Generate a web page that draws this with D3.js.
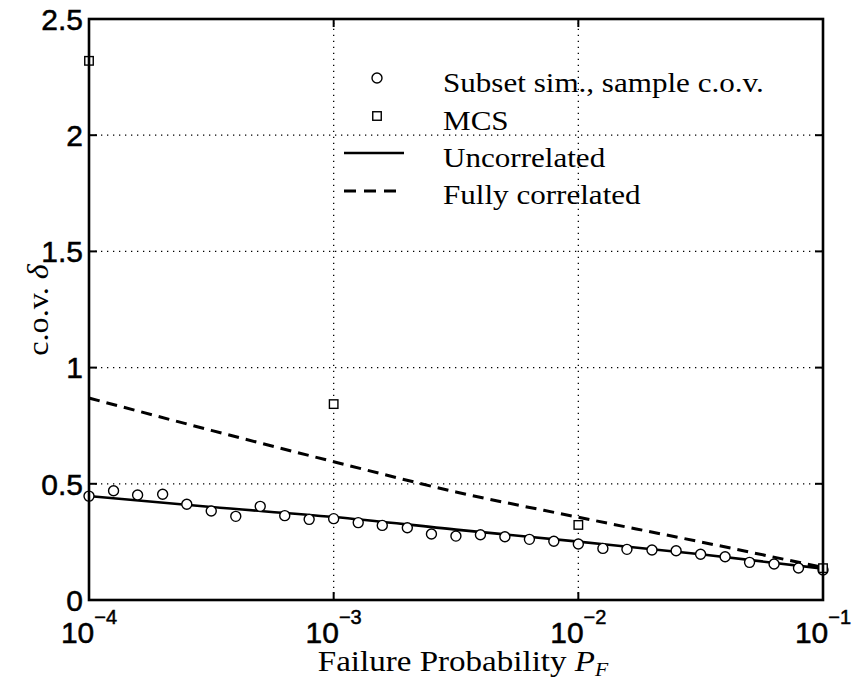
<!DOCTYPE html>
<html>
<head>
<meta charset="utf-8">
<script src="https://cdn.jsdelivr.net/npm/d3@7"></script>
<style>
  html, body { margin: 0; padding: 0; background: #fff; }
  svg { display: block; }
</style>
</head>
<body>
<svg id="chart" width="853" height="682"></svg>
<script>
// ---------- data ----------
const subsetPF = [1.00e-4, 1.26e-4, 1.58e-4, 2.00e-4, 2.51e-4, 3.16e-4, 3.98e-4, 5.01e-4, 6.31e-4, 7.94e-4,
                  1.00e-3, 1.26e-3, 1.58e-3, 2.00e-3, 2.51e-3, 3.16e-3, 3.98e-3, 5.01e-3, 6.31e-3, 7.94e-3,
                  1.00e-2, 1.26e-2, 1.58e-2, 2.00e-2, 2.51e-2, 3.16e-2, 3.98e-2, 5.01e-2, 6.31e-2, 7.94e-2,
                  1.00e-1];
const subsetCov = [0.447, 0.470, 0.452, 0.455, 0.412, 0.383, 0.360, 0.403, 0.363, 0.347,
                   0.350, 0.333, 0.321, 0.311, 0.284, 0.275, 0.281, 0.272, 0.261, 0.253,
                   0.241, 0.222, 0.218, 0.215, 0.212, 0.197, 0.186, 0.162, 0.155, 0.138,
                   0.129];
const mcsPF = [1e-4, 1e-3, 1e-2, 1e-1];
const mcsCov = [2.32, 0.843, 0.323, 0.137];
const curvePF = [1e-4, 3.16e-4, 1e-3, 3.16e-3, 1e-2, 3.16e-2, 1e-1];
const uncorrCov = [0.447, 0.400, 0.357, 0.303, 0.251, 0.197, 0.135];
const fullCorrCov = [0.869, 0.730, 0.595, 0.465, 0.356, 0.250, 0.140];
const xTicks = [1e-4, 1e-3, 1e-2, 1e-1];
const xTickExp = ["\u22124", "\u22123", "\u22122", "\u22121"];
const yTicks = [0, 0.5, 1, 1.5, 2, 2.5];
const yTickLabels = ["0", "0.5", "1", "1.5", "2", "2.5"];
const legendLabels = ["Subset sim., sample c.o.v.", "MCS", "Uncorrelated", "Fully correlated"];

// ---------- layout ----------
const L = 89, R = 823, T = 19, B = 600;
const svg = d3.select("#chart");
const x = d3.scaleLog().domain([1e-4, 1e-1]).range([L, R]);
const y = d3.scaleLinear().domain([0, 2.5]).range([B, T]);

const sans = "'Liberation Sans', Arial, Helvetica, sans-serif";
const serif = "'Liberation Serif', 'Times New Roman', serif";
const widen = 1.11; // Computer-Modern-like width

// grid (dotted)
const grid = svg.append("g").attr("stroke", "#000").attr("stroke-width", 1.3)
  .attr("stroke-dasharray", "1.3,4.7").attr("fill", "none");
xTicks.slice(1, -1).forEach(t => {
  grid.append("line").attr("x1", x(t)).attr("x2", x(t)).attr("y1", B).attr("y2", T);
});
yTicks.slice(1, -1).forEach(t => {
  grid.append("line").attr("x1", L).attr("x2", R).attr("y1", y(t)).attr("y2", y(t));
});

// ticks (inward on all sides)
const tk = svg.append("g").attr("stroke", "#000").attr("stroke-width", 2);
xTicks.forEach(t => {
  tk.append("line").attr("x1", x(t)).attr("x2", x(t)).attr("y1", B).attr("y2", B - 8);
  tk.append("line").attr("x1", x(t)).attr("x2", x(t)).attr("y1", T).attr("y2", T + 8);
});
yTicks.forEach(t => {
  tk.append("line").attr("x1", L).attr("x2", L + 8).attr("y1", y(t)).attr("y2", y(t));
  tk.append("line").attr("x1", R).attr("x2", R - 8).attr("y1", y(t)).attr("y2", y(t));
});

// lines
const line = d3.line().x(d => x(d[0])).y(d => y(d[1])).curve(d3.curveMonotoneX);
svg.append("path").datum(curvePF.map((p, i) => [p, fullCorrCov[i]]))
  .attr("d", line).attr("fill", "none").attr("stroke", "#000")
  .attr("stroke-width", 3).attr("stroke-dasharray", "11,7");
svg.append("path").datum(curvePF.map((p, i) => [p, uncorrCov[i]]))
  .attr("d", line).attr("fill", "none").attr("stroke", "#000").attr("stroke-width", 2.6);

// subset circles
const cr = 5;
svg.append("g").selectAll("circle").data(subsetPF.map((p, i) => [p, subsetCov[i]]))
  .join("circle").attr("cx", d => x(d[0])).attr("cy", d => y(d[1])).attr("r", cr)
  .attr("fill", "#fff").attr("stroke", "#000").attr("stroke-width", 1.4);

// MCS squares
const sq = 8.5;
svg.append("g").selectAll("rect").data(mcsPF.map((p, i) => [p, mcsCov[i]]))
  .join("rect").attr("x", d => x(d[0]) - sq / 2).attr("y", d => y(d[1]) - sq / 2)
  .attr("width", sq).attr("height", sq)
  .attr("fill", "#fff").attr("stroke", "#000").attr("stroke-width", 1.4);

// frame
svg.append("rect").attr("x", L).attr("y", T).attr("width", R - L).attr("height", B - T)
  .attr("fill", "none").attr("stroke", "#000").attr("stroke-width", 2.6);

// y tick labels
svg.append("g").selectAll("text").data(yTicks).join("text")
  .attr("x", L - 6).attr("y", d => y(d)).attr("dy", "0.36em")
  .attr("text-anchor", "end").attr("font-family", sans).attr("font-size", 30)
  .attr("stroke", "#000").attr("stroke-width", 0.5)
  .text((d, i) => yTickLabels[i]);

// x tick labels (10^e)
xTicks.forEach((t, i) => {
  const g = svg.append("text").attr("x", x(t)).attr("y", 643)
    .attr("text-anchor", "middle").attr("font-family", sans).attr("font-size", 30)
    .attr("stroke", "#000").attr("stroke-width", 0.5);
  g.append("tspan").text("10");
  g.append("tspan").attr("dy", -19).attr("font-size", 20).text(xTickExp[i]);
});

// axis titles
const xt = svg.append("text").attr("transform", `translate(463,671) scale(1.14,1)`)
  .attr("text-anchor", "middle").attr("font-family", serif).attr("font-size", 29);
xt.append("tspan").text("Failure Probability ");
xt.append("tspan").attr("font-style", "italic").text("P");
xt.append("tspan").attr("font-style", "italic").attr("font-size", 19).attr("dy", 5).text("F");

const yt = svg.append("text").attr("transform", `translate(48,310) rotate(-90) scale(${widen},1)`)
  .attr("text-anchor", "middle").attr("font-family", serif).attr("font-size", 29);
yt.append("tspan").text("c.o.v. ");
yt.append("tspan").attr("font-style", "italic").text("\u03b4");

// legend
const lg = svg.append("g");
const lx = 377, ty = [78, 116, 153, 191], tb = [92, 130, 167, 204];
lg.append("circle").attr("cx", lx).attr("cy", ty[0]).attr("r", cr)
  .attr("fill", "#fff").attr("stroke", "#000").attr("stroke-width", 1.4);
lg.append("rect").attr("x", lx - sq / 2).attr("y", ty[1] - sq / 2).attr("width", sq).attr("height", sq)
  .attr("fill", "#fff").attr("stroke", "#000").attr("stroke-width", 1.4);
lg.append("line").attr("x1", 344).attr("x2", 404).attr("y1", ty[2]).attr("y2", ty[2])
  .attr("stroke", "#000").attr("stroke-width", 2.6);
lg.append("line").attr("x1", 344).attr("x2", 396).attr("y1", ty[3]).attr("y2", ty[3])
  .attr("stroke", "#000").attr("stroke-width", 3).attr("stroke-dasharray", "12,8");
legendLabels.forEach((s, i) => {
  lg.append("text").attr("transform", `translate(443,${tb[i]}) scale(${widen},1)`)
    .attr("font-family", serif).attr("font-size", 28).text(s);
});
</script>
</body>
</html>
